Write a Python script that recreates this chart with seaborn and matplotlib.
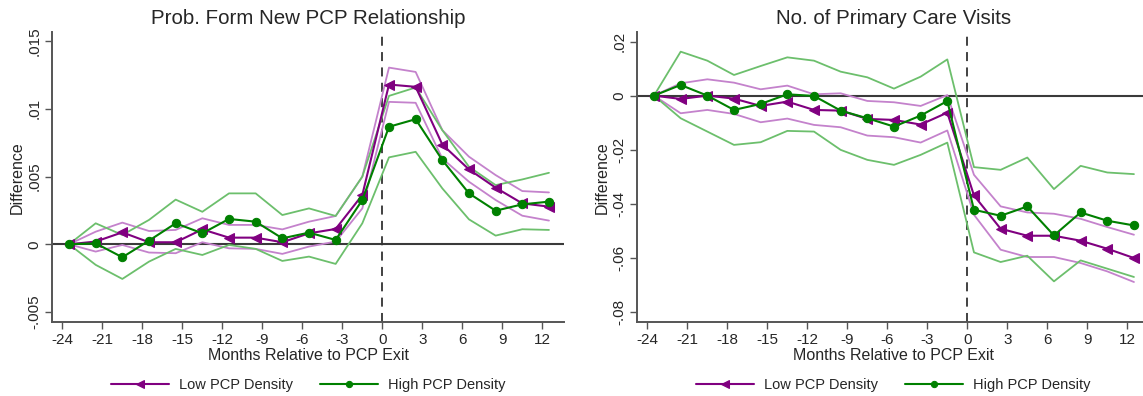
import matplotlib
matplotlib.use("Agg")
import matplotlib.pyplot as plt
import pandas as pd
import seaborn as sns

# event-time bins (months relative to PCP exit), shared by both panels
MONTHS = [-23.5, -21.5, -19.5, -17.5, -15.5, -13.5, -11.5, -9.5, -7.5, -5.5,
          -3.5, -1.5, 0.5, 2.5, 4.5, 6.5, 8.5, 10.5, 12.5]

# --- panel 1: prob. form new PCP relationship ---
new_low = [0, 0.0002, 0.00088, 0.00015, 0.00015, 0.0011, 0.00049, 0.00049, 0.00015, 0.00081,
           0.00113, 0.00364, 0.0118, 0.01163, 0.00737, 0.00553, 0.00418, 0.00302, 0.00278]
new_low_hi = [0, 0.00093, 0.0016, 0.00098, 0.00106, 0.00192, 0.00143, 0.00143, 0.0011, 0.00167,
              0.00209, 0.00499, 0.01305, 0.01273, 0.00843, 0.00647, 0.00511, 0.00393, 0.00383]
new_low_lo = [0, -0.00054, -0.00005, -0.00061, -0.00066, 0.00015, -0.0003, -0.00034, -0.00071, -0.00017,
              0.0002, 0.00265, 0.01052, 0.01045, 0.00634, 0.00462, 0.00327, 0.00211, 0.00175]
new_high = [0, 0.00007, -0.00096, 0.00027, 0.00155, 0.00081, 0.00187, 0.00167, 0.00044, 0.00086,
            0.00032, 0.00327, 0.00868, 0.00924, 0.00622, 0.00376, 0.00248, 0.00295, 0.00315]
new_high_hi = [0, 0.00155, 0.00069, 0.0018, 0.0033, 0.0024, 0.00376, 0.00376, 0.00216, 0.00265,
               0.00209, 0.005, 0.01096, 0.01158, 0.00843, 0.00573, 0.00437, 0.00479, 0.00528]
new_high_lo = [0, -0.00152, -0.00256, -0.00128, -0.00034, -0.00079, -0.00005, -0.00034, -0.00123, -0.00091,
               -0.00145, 0.00155, 0.00642, 0.00683, 0.00413, 0.00184, 0.00064, 0.00111, 0.00106]

# --- panel 2: no. of primary care visits ---
vis_low = [0, -0.00123, 0, -0.00111, -0.00382, -0.00222, -0.0053, -0.00555, -0.00863, -0.009,
           -0.01072, -0.0063, -0.03697, -0.04928, -0.05187, -0.05187, -0.05372, -0.05668, -0.06012]
vis_low_hi = [0, 0.00456, 0.00604, 0.0048, 0.00234, 0.0037, 0.00049, 0.00086, -0.00197, -0.00246,
              -0.00382, 0.0002, -0.02932, -0.041, -0.04325, -0.04373, -0.0456, -0.04866, -0.0515]
vis_low_lo = [0, -0.00653, -0.0053, -0.00678, -0.00986, -0.0085, -0.01084, -0.01171, -0.01479, -0.0154,
              -0.01738, -0.0129, -0.0441, -0.05704, -0.05975, -0.05975, -0.06197, -0.06507, -0.069]
vis_high = [0, 0.00394, 0, -0.0053, -0.00308, 0.00049, -0.00012, -0.00555, -0.00838, -0.01146,
            -0.00739, -0.002, -0.04226, -0.04448, -0.04103, -0.05176, -0.04325, -0.04632, -0.04806]
vis_high_hi = [0, 0.01627, 0.01294, 0.00764, 0.01096, 0.01417, 0.01294, 0.00887, 0.00678, 0.00259,
               0.00702, 0.0134, -0.02647, -0.02747, -0.02292, -0.0346, -0.026, -0.02846, -0.02906]
vis_high_lo = [0, -0.00838, -0.01331, -0.01824, -0.01725, -0.01306, -0.01331, -0.02008, -0.02378, -0.02563,
               -0.02193, -0.0174, -0.05804, -0.0616, -0.05927, -0.06876, -0.061, -0.06407, -0.06714]

XTICKS = [-24, -21, -18, -15, -12, -9, -6, -3, 0, 3, 6, 9, 12]
NEW_YTICKS = [-0.005, 0, 0.005, 0.01, 0.015]
NEW_YLABELS = ["-.005", "0", ".005", ".01", ".015"]
VIS_YTICKS = [-0.08, -0.06, -0.04, -0.02, 0, 0.02]
VIS_YLABELS = ["-.08", "-.06", "-.04", "-.02", "0", ".02"]

PURPLE = "#800080"
PURPLE_CI = "#c482cc"
GREEN = "#008000"
GREEN_CI = "#6cbf6c"
AXIS_GRAY = "#555555"

sns.set_style("ticks")
plt.rcParams["font.family"] = ["Liberation Sans", "DejaVu Sans"]
plt.rcParams["font.size"] = 11


def draw_panel(ax, title, low, low_hi, low_lo, high, high_hi, high_lo,
               yticks, ylabels, ylim):
    df = pd.DataFrame({
        "month": MONTHS,
        "low": low, "low_hi": low_hi, "low_lo": low_lo,
        "high": high, "high_hi": high_hi, "high_lo": high_lo,
    })

    ax.axhline(0, color="#3a3a3a", lw=1.5, zorder=1)
    ax.axvline(0, color="#333333", lw=1.3, ls=(0, (5, 3.5)), zorder=1)

    # confidence bands as thin lines, the way Stata draws rline CIs
    for col, c in [("low_hi", PURPLE_CI), ("low_lo", PURPLE_CI),
                   ("high_hi", GREEN_CI), ("high_lo", GREEN_CI)]:
        sns.lineplot(data=df, x="month", y=col, ax=ax, color=c, lw=1.3,
                     zorder=2, legend=False)

    sns.lineplot(data=df, x="month", y="low", ax=ax, color=PURPLE, lw=1.5,
                 marker="<", markersize=7.5, markeredgecolor=PURPLE,
                 label="Low PCP Density", zorder=3)
    sns.lineplot(data=df, x="month", y="high", ax=ax, color=GREEN, lw=1.5,
                 marker="o", markersize=6, markeredgecolor=GREEN,
                 label="High PCP Density", zorder=4)

    ax.set_xlim(-24.75, 13.65)
    ax.set_ylim(*ylim)
    ax.set_xticks(XTICKS)
    ax.set_xticklabels([str(t) for t in XTICKS])
    ax.set_yticks(yticks)
    ax.set_yticklabels(ylabels, rotation=90, va="center")

    ax.set_title(title, fontsize=14.8, pad=6)
    ax.set_xlabel("Months Relative to PCP Exit", fontsize=11.5, labelpad=1)
    ax.set_ylabel("Difference", fontsize=11.5, labelpad=2)

    sns.despine(ax=ax)
    for side in ["left", "bottom"]:
        ax.spines[side].set_color(AXIS_GRAY)
        ax.spines[side].set_linewidth(1.4)
    ax.tick_params(length=5, width=1, color=AXIS_GRAY, pad=3)

    ax.legend(loc="upper center", bbox_to_anchor=(0.5, -0.148), ncol=2,
              frameon=False, handlelength=4.0, handletextpad=0.7,
              columnspacing=1.8, fontsize=10.5, markerscale=0.75)


def main():
    fig = plt.figure(figsize=(11.43, 3.96), dpi=100)
    ax1 = fig.add_axes([0.0458, 0.1869, 0.4479, 0.7316])
    ax2 = fig.add_axes([0.5576, 0.1869, 0.4479, 0.7316])

    draw_panel(ax1, "Prob. Form New PCP Relationship",
               new_low, new_low_hi, new_low_lo, new_high, new_high_hi, new_high_lo,
               NEW_YTICKS, NEW_YLABELS, (-0.00574, 0.01566))
    draw_panel(ax2, "No. of Primary Care Visits",
               vis_low, vis_low_hi, vis_low_lo, vis_high, vis_high_hi, vis_high_lo,
               VIS_YTICKS, VIS_YLABELS, (-0.0838, 0.02345))

    fig.savefig("out.png", dpi=100)


if __name__ == "__main__":
    main()
